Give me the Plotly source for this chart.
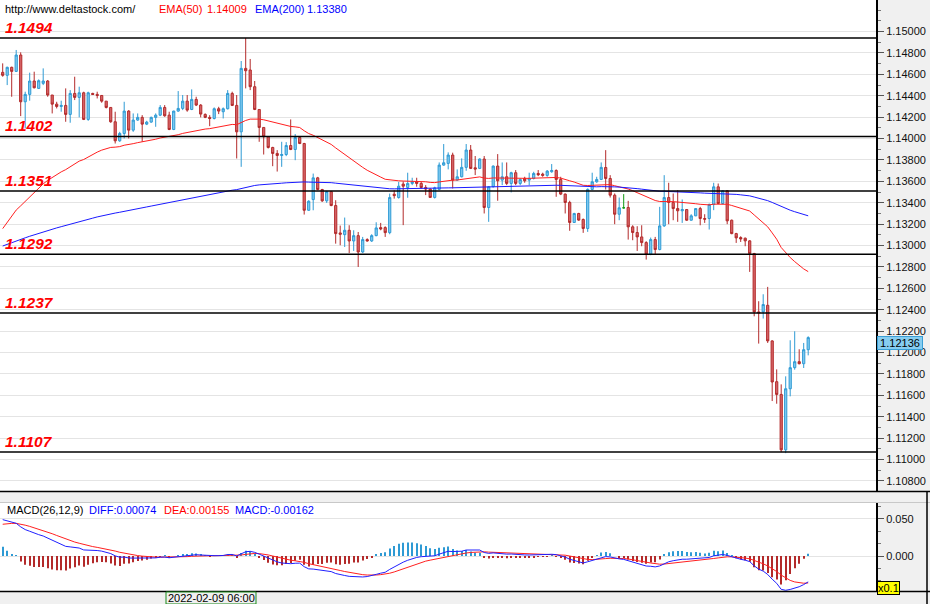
import plotly.graph_objects as go

# ---------------- data ----------------
opens = [1.14619,1.14591,1.14666,1.14628,1.14781,1.14344,1.14413,1.14538,1.14469,1.14516,
         1.14538,1.14407,1.14322,1.14300,1.14310,1.14226,1.14422,1.14385,1.14428,1.14179,
         1.14422,1.14413,1.14403,1.14350,1.14291,1.14157,1.13979,1.14048,1.14257,1.14079,
         1.14173,1.14198,1.14135,1.14154,1.14198,1.14219,1.14291,1.14219,1.14085,1.14257,
         1.14282,1.14350,1.14272,1.14366,1.14313,1.14226,1.14198,1.14188,1.14279,1.14251,
         1.14279,1.14422,1.14310,1.14063,1.14656,1.14641,1.14485,1.14272,1.14104,1.14017,
         1.13917,1.13861,1.13842,1.13851,1.13935,1.13898,1.14010,1.13954,1.13330,1.13430,
         1.13633,1.13524,1.13418,1.13505,1.13374,1.13118,1.13102,1.13143,1.13043,1.13093,
         1.12940,1.13056,1.13043,1.13093,1.13168,1.13168,1.13121,1.13480,1.13449,1.13575,
         1.13543,1.13581,1.13596,1.13581,1.13543,1.13528,1.13450,1.13525,1.13752,1.13768,
         1.13846,1.13612,1.13643,1.13731,1.13893,1.13727,1.13721,1.13809,1.13356,1.13550,
         1.13743,1.13612,1.13643,1.13581,1.13681,1.13581,1.13628,1.13612,1.13628,1.13674,
         1.13668,1.13656,1.13690,1.13702,1.13618,1.13481,1.13403,1.13216,1.13300,1.13244,
         1.13160,1.13525,1.13596,1.13618,1.13730,1.13627,1.13471,1.13293,1.13353,1.13356,
         1.13175,1.13122,1.13081,1.13028,1.12919,1.13056,1.12963,1.13184,1.13449,1.13403,
         1.13346,1.13325,1.13337,1.13237,1.13278,1.13346,1.13253,1.13253,1.13384,1.13549,
         1.13393,1.13512,1.13237,1.13112,1.13075,1.13069,1.13044,1.12926,1.12380,1.12380,
         1.12442,1.12109,1.11728,1.11609,1.11091,1.11662,1.11859,1.11915,1.11896,1.12027]
highs = [1.14703,1.14672,1.14672,1.14828,1.14806,1.14438,1.14616,1.14625,1.14553,1.14656,
         1.14547,1.14407,1.14344,1.14354,1.14469,1.14453,1.14578,1.14485,1.14438,1.14438,
         1.14428,1.14438,1.14407,1.14350,1.14291,1.14251,1.14063,1.14344,1.14266,1.14235,
         1.14235,1.14219,1.14166,1.14205,1.14235,1.14313,1.14313,1.14251,1.14260,1.14444,
         1.14407,1.14407,1.14460,1.14391,1.14322,1.14235,1.14219,1.14291,1.14297,1.14291,
         1.14453,1.14438,1.14407,1.14725,1.14940,1.14744,1.14538,1.14272,1.14104,1.14017,
         1.13923,1.13892,1.13970,1.13967,1.14179,1.14042,1.14023,1.13960,1.13424,1.13673,
         1.13642,1.13530,1.13511,1.13511,1.13424,1.13187,1.13262,1.13190,1.13143,1.13127,
         1.13081,1.13068,1.13106,1.13218,1.13212,1.13180,1.13486,1.13517,1.13595,1.13600,
         1.13681,1.13634,1.13634,1.13596,1.13565,1.13534,1.13550,1.13777,1.13949,1.13871,
         1.13868,1.13712,1.13815,1.13949,1.13940,1.13837,1.13815,1.13837,1.13556,1.13749,
         1.13855,1.13777,1.13777,1.13690,1.13706,1.13628,1.13643,1.13681,1.13690,1.13706,
         1.13681,1.13706,1.13762,1.13712,1.13643,1.13487,1.13419,1.13306,1.13306,1.13253,
         1.13534,1.13681,1.13643,1.13777,1.13892,1.13658,1.13487,1.13449,1.13481,1.13418,
         1.13190,1.13181,1.13190,1.13041,1.13075,1.13081,1.13362,1.13658,1.13587,1.13487,
         1.13518,1.13431,1.13340,1.13293,1.13350,1.13362,1.13293,1.13393,1.13587,1.13580,
         1.13518,1.13518,1.13243,1.13119,1.13087,1.13075,1.13050,1.12932,1.12480,1.12545,
         1.12614,1.12115,1.11843,1.11703,1.11778,1.12115,1.12199,1.12031,1.12090,1.12152]
lows = [1.14578,1.14500,1.14391,1.14622,1.14210,1.14095,1.14354,1.14469,1.14463,1.14500,
        1.14391,1.14235,1.14282,1.14251,1.14157,1.14148,1.14360,1.14198,1.14173,1.14166,
        1.14407,1.14375,1.14335,1.14282,1.14148,1.13954,1.13970,1.14001,1.14001,1.14063,
        1.14166,1.13970,1.14126,1.14148,1.14110,1.14210,1.14204,1.14079,1.14079,1.14251,
        1.14266,1.14251,1.14266,1.14304,1.14198,1.14191,1.14116,1.14179,1.14229,1.14188,
        1.14272,1.14304,1.13814,1.13736,1.14469,1.14453,1.14266,1.13970,1.13851,1.13907,
        1.13742,1.13692,1.13736,1.13836,1.13892,1.13798,1.13948,1.13290,1.13324,1.13330,
        1.13517,1.13408,1.13399,1.13368,1.13018,1.13003,1.12987,1.12931,1.12950,1.12800,
        1.12931,1.13037,1.13034,1.13087,1.13143,1.13081,1.13106,1.13439,1.13439,1.13191,
        1.13447,1.13565,1.13550,1.13534,1.13472,1.13447,1.13440,1.13518,1.13746,1.13712,
        1.13534,1.13606,1.13637,1.13699,1.13715,1.13659,1.13715,1.13300,1.13222,1.13543,
        1.13419,1.13565,1.13565,1.13497,1.13565,1.13565,1.13587,1.13565,1.13618,1.13649,
        1.13643,1.13643,1.13681,1.13456,1.13472,1.13300,1.13138,1.13213,1.13231,1.13119,
        1.13128,1.13518,1.13587,1.13612,1.13524,1.13449,1.13200,1.13237,1.13346,1.13056,
        1.13050,1.12950,1.12994,1.12869,1.12910,1.12919,1.12956,1.13175,1.13200,1.13237,
        1.13222,1.13212,1.13231,1.13234,1.13275,1.13190,1.13212,1.13150,1.13331,1.13387,
        1.13387,1.13200,1.13106,1.13025,1.13034,1.12994,1.12754,1.12339,1.12084,1.12318,
        1.12090,1.11547,1.11522,1.11070,1.11060,1.11591,1.11840,1.11890,1.11856,1.11974]
closes = [1.14591,1.14666,1.14628,1.14781,1.14344,1.14413,1.14538,1.14475,1.14541,1.14538,
          1.14407,1.14322,1.14300,1.14310,1.14226,1.14422,1.14385,1.14428,1.14179,1.14428,
          1.14413,1.14403,1.14350,1.14291,1.14157,1.13979,1.14048,1.14257,1.14079,1.14173,
          1.14198,1.14135,1.14154,1.14198,1.14219,1.14291,1.14213,1.14085,1.14257,1.14282,
          1.14350,1.14266,1.14366,1.14313,1.14229,1.14198,1.14188,1.14279,1.14257,1.14279,
          1.14422,1.14310,1.14063,1.14656,1.14634,1.14485,1.14272,1.14104,1.14017,1.13917,
          1.13861,1.13842,1.13851,1.13935,1.13898,1.14010,1.13954,1.13330,1.13414,1.13633,
          1.13524,1.13418,1.13505,1.13374,1.13112,1.13106,1.13143,1.13043,1.13093,1.12940,
          1.13056,1.13043,1.13093,1.13165,1.13155,1.13121,1.13449,1.13467,1.13555,1.13555,
          1.13581,1.13596,1.13581,1.13543,1.13528,1.13450,1.13540,1.13752,1.13774,1.13846,
          1.13612,1.13643,1.13731,1.13893,1.13721,1.13715,1.13809,1.13356,1.13550,1.13743,
          1.13606,1.13643,1.13581,1.13681,1.13581,1.13618,1.13606,1.13628,1.13674,1.13662,
          1.13656,1.13696,1.13702,1.13618,1.13481,1.13403,1.13216,1.13300,1.13238,1.13160,
          1.13525,1.13596,1.13618,1.13731,1.13627,1.13471,1.13293,1.13353,1.13353,1.13175,
          1.13122,1.13081,1.13028,1.12919,1.13056,1.12963,1.13184,1.13449,1.13403,1.13346,
          1.13325,1.13337,1.13237,1.13278,1.13346,1.13253,1.13247,1.13384,1.13549,1.13393,
          1.13512,1.13231,1.13112,1.13072,1.13062,1.13044,1.12925,1.12380,1.12371,1.12449,
          1.12109,1.11725,1.11609,1.11091,1.11662,1.11859,1.11915,1.11896,1.12027,1.12140]

# indicator seeds (state carried in from history before the visible window)
ema50_seed = 1.1310
ema200_seed = 1.1298
ema12_seed = 1.1440
ema26_seed = 1.1389
dea_seed = 0.0041

levels = [1.1494, 1.1402, 1.1351, 1.1292, 1.1237, 1.1107]
level_labels = ["1.1494", "1.1402", "1.1351", "1.1292", "1.1237", "1.1107"]
price_tickvals = [1.108, 1.110, 1.112, 1.114, 1.116, 1.118, 1.120, 1.122, 1.124, 1.126, 1.128,
                  1.130, 1.132, 1.134, 1.136, 1.138, 1.140, 1.142, 1.144, 1.146, 1.148, 1.150]
price_ticktext = ["1.10800", "1.11000", "1.11200", "1.11400", "1.11600", "1.11800", "1.12000",
                  "1.12200", "1.12400", "1.12600", "1.12800", "1.13000", "1.13200", "1.13400",
                  "1.13600", "1.13800", "1.14000", "1.14200", "1.14400", "1.14600", "1.14800",
                  "1.15000"]
macd_display_scale = 10
macd_tickvals = [0.0, 0.05]
macd_ticktext = ["0.000", "0.050"]
last_price_text = "1.12136"
cursor_date = "2022-02-09 06:00"
header_texts = ["http://www.deltastock.com/", "EMA(50)", "1.14009", "EMA(200)", "1.13380"]
macd_texts = ["MACD(26,12,9)", "DIFF:0.00074", "DEA:0.00155", "MACD:-0.00162"]


def ema(values, period, seed):
    a = 2.0 / (period + 1)
    out, e = [], seed
    for v in values:
        e = a * v + (1 - a) * e
        out.append(e)
    return out


n = len(closes)
idx = list(range(n))
ema50 = ema(closes, 50, ema50_seed)
ema200 = ema(closes, 200, ema200_seed)
fast = ema(closes, 12, ema12_seed)
slow = ema(closes, 26, ema26_seed)
diff = [f - s for f, s in zip(fast, slow)]
dea = ema(diff, 9, dea_seed)
hist = [2 * (d - s) for d, s in zip(diff, dea)]
diff_d = [v * macd_display_scale for v in diff]
dea_d = [v * macd_display_scale for v in dea]
hist_d = [v * macd_display_scale for v in hist]

# ---------------- geometry ----------------
W, H = 930, 604
XD = 876 / W
main_bot_px, main_top_px = 491, 0
macd_top_px, macd_bot_px = 503, 591

FONT = "Liberation Sans"
UP_LINE, UP_FILL = "#2e9ad4", "#84ccf1"
DN_LINE, DN_FILL = "#b32a2a", "#d7666a"

fig = go.Figure()

reg = [i for i in idx if opens[i] != closes[i]]
doj = [i for i in idx if opens[i] == closes[i]]
fig.add_trace(go.Candlestick(
    x=reg, open=[opens[i] for i in reg], high=[highs[i] for i in reg],
    low=[lows[i] for i in reg], close=[closes[i] for i in reg],
    increasing=dict(line=dict(color=UP_LINE, width=1), fillcolor=UP_FILL),
    decreasing=dict(line=dict(color=DN_LINE, width=1), fillcolor=DN_FILL),
    whiskerwidth=0, showlegend=False, hoverinfo="skip", xaxis="x", yaxis="y"))
if doj:
    fig.add_trace(go.Candlestick(
        x=doj, open=[opens[i] for i in doj], high=[highs[i] for i in doj],
        low=[lows[i] for i in doj], close=[closes[i] for i in doj],
        increasing=dict(line=dict(color="#119911", width=1), fillcolor="#119911"),
        decreasing=dict(line=dict(color="#119911", width=1), fillcolor="#119911"),
        whiskerwidth=0, showlegend=False, hoverinfo="skip", xaxis="x", yaxis="y"))

fig.add_trace(go.Scatter(x=idx, y=ema50, mode="lines", line=dict(color="#ff2020", width=1),
                         showlegend=False, hoverinfo="skip", xaxis="x", yaxis="y"))
fig.add_trace(go.Scatter(x=idx, y=ema200, mode="lines", line=dict(color="#1a1aff", width=1),
                         showlegend=False, hoverinfo="skip", xaxis="x", yaxis="y"))

# MACD panel
fig.add_trace(go.Bar(x=idx, y=hist_d, width=0.28,
                     marker=dict(color=[UP_LINE if v >= 0 else DN_LINE for v in hist_d], line=dict(width=0)),
                     showlegend=False, hoverinfo="skip", xaxis="x2", yaxis="y2"))
fig.add_trace(go.Scatter(x=idx, y=dea_d, mode="lines", line=dict(color="#ff2020", width=1),
                         showlegend=False, hoverinfo="skip", xaxis="x2", yaxis="y2"))
fig.add_trace(go.Scatter(x=idx, y=diff_d, mode="lines", line=dict(color="#2020ff", width=1),
                         showlegend=False, hoverinfo="skip", xaxis="x2", yaxis="y2"))

# axis ranges from pixel layout of the reference
px_per_price = 10700.0
p_top = levels[0] + (38 - main_top_px) / px_per_price
p_bot = levels[0] - (main_bot_px - 38) / px_per_price
macd_px_per_unit = 746.0   # pixels per displayed MACD unit
m_top = (556 - macd_top_px) / macd_px_per_unit
m_bot = -(macd_bot_px - 556) / macd_px_per_unit
x_lo = -0.6
x_hi = x_lo + 876 / 4.5


def py(px):
    return 1 - px / H


shapes = [
    dict(type="rect", xref="paper", yref="paper", x0=XD, x1=1, y0=0, y1=1,
         fillcolor="#f0f0f0", line=dict(width=0), layer="below"),
    dict(type="rect", xref="paper", yref="paper", x0=0, x1=XD, y0=py(502.5), y1=py(491.5),
         fillcolor="#f0f0f0", line=dict(width=0), layer="below"),
    dict(type="rect", xref="paper", yref="paper", x0=0, x1=1, y0=0, y1=py(591.5),
         fillcolor="#f0f0f0", line=dict(width=0), layer="below"),
    dict(type="line", xref="paper", yref="paper", x0=0, x1=1, y0=py(491.5), y1=py(491.5),
         line=dict(color="black", width=1.5)),
    dict(type="line", xref="paper", yref="paper", x0=0, x1=1, y0=py(502.5), y1=py(502.5),
         line=dict(color="#c8c8c8", width=1)),
    dict(type="line", xref="paper", yref="paper", x0=0, x1=1, y0=py(591.5), y1=py(591.5),
         line=dict(color="black", width=1.5)),
    dict(type="line", xref="paper", yref="paper", x0=927 / W, x1=927 / W, y0=py(604), y1=py(492),
         line=dict(color="black", width=1.5)),
    dict(type="rect", xref="paper", yref="paper", x0=166 / W, x1=256 / W, y0=py(604), y1=py(592),
         fillcolor="#f0f0f0", line=dict(color="#1a8a1a", width=1)),
]
for lv in levels:
    shapes.append(dict(type="line", xref="paper", yref="y", x0=0, x1=XD, y0=lv, y1=lv,
                       line=dict(color="black", width=1.5)))

annotations = []
for lv, lab in zip(levels, level_labels):
    annotations.append(dict(xref="paper", yref="y", x=3 / W, y=lv, text=lab, showarrow=False,
                            xanchor="left", yanchor="bottom", yshift=0,
                            font=dict(family=FONT, size=15.5, color="#ff0000", weight="bold", style="italic")))

hx = [3, 157, 205, 253, 305]
hc = ["black", "#ff0000", "#ff0000", "#0000ff", "#0000ff"]
for t, x, c in zip(header_texts, hx, hc):
    annotations.append(dict(xref="paper", yref="paper", x=x / W, y=py(9), text=t, showarrow=False,
                            xanchor="left", yanchor="middle", font=dict(family=FONT, size=11, color=c)))
mx = [5, 87, 162, 233]
mc = ["black", "#0000ff", "#ff0000", "#0000ff"]
for t, x, c in zip(macd_texts, mx, mc):
    annotations.append(dict(xref="paper", yref="paper", x=x / W, y=py(510), text=t, showarrow=False,
                            xanchor="left", yanchor="middle", font=dict(family=FONT, size=11, color=c)))

annotations.append(dict(xref="paper", yref="y", x=877 / W, y=closes[-1], text=last_price_text,
                        showarrow=False, xanchor="left", yanchor="middle", yshift=-5, bgcolor="#87cdf0",
                        bordercolor="#3a9fd6", borderwidth=1, borderpad=0, width=44,
                        font=dict(family=FONT, size=11, color="black")))
annotations.append(dict(xref="paper", yref="paper", x=877 / W, y=py(588), text="x0.1",
                        showarrow=False, xanchor="left", yanchor="middle", bgcolor="#ffff00",
                        bordercolor="black", borderwidth=1, borderpad=0,
                        font=dict(family=FONT, size=11, color="black")))
annotations.append(dict(xref="paper", yref="paper", x=211 / W, y=py(598), text=cursor_date,
                        showarrow=False, xanchor="center", yanchor="middle",
                        font=dict(family=FONT, size=11, color="black")))

fig.update_layout(
    width=W, height=H, margin=dict(l=0, r=0, t=0, b=0, autoexpand=False),
    paper_bgcolor="white", plot_bgcolor="white", showlegend=False,
    xaxis=dict(domain=[0, XD], range=[x_lo, x_hi], visible=False, anchor="y",
               rangeslider=dict(visible=False)),
    yaxis=dict(domain=[py(main_bot_px), 1], range=[p_bot, p_top], side="right", anchor="x",
               tickmode="array", tickvals=price_tickvals, ticktext=price_ticktext,
               ticks="outside", ticklen=6, tickcolor="#555", tickwidth=1,
               minor=dict(dtick=0.001, tick0=1.0, ticks="outside", ticklen=3, tickcolor="#777", showgrid=False),
               showgrid=True, gridcolor="#e4e4e4", gridwidth=1.2, zeroline=False,
               showline=True, linecolor="black", linewidth=2, automargin=False,
               tickfont=dict(family=FONT, size=11, color="#111")),
    xaxis2=dict(domain=[0, XD], range=[x_lo, x_hi], visible=False, anchor="y2"),
    yaxis2=dict(domain=[py(macd_bot_px), py(macd_top_px)], range=[m_bot, m_top],
                side="right", anchor="x2",
                tickmode="array", tickvals=macd_tickvals, ticktext=macd_ticktext,
                ticks="outside", ticklen=6, tickcolor="#555",
                minor=dict(dtick=0.05 / 3, tick0=0, ticks="outside", ticklen=3, tickcolor="#777", showgrid=False),
                showgrid=True, gridcolor="#e4e4e4", zeroline=False,
                showline=True, linecolor="black", linewidth=2, automargin=False,
                tickfont=dict(family=FONT, size=11, color="#111")),
    shapes=shapes, annotations=annotations,
)

fig.write_html("out.html", config={"displayModeBar": False},
               post_script="document.body.style.margin='0px';document.body.style.overflow='hidden';")
